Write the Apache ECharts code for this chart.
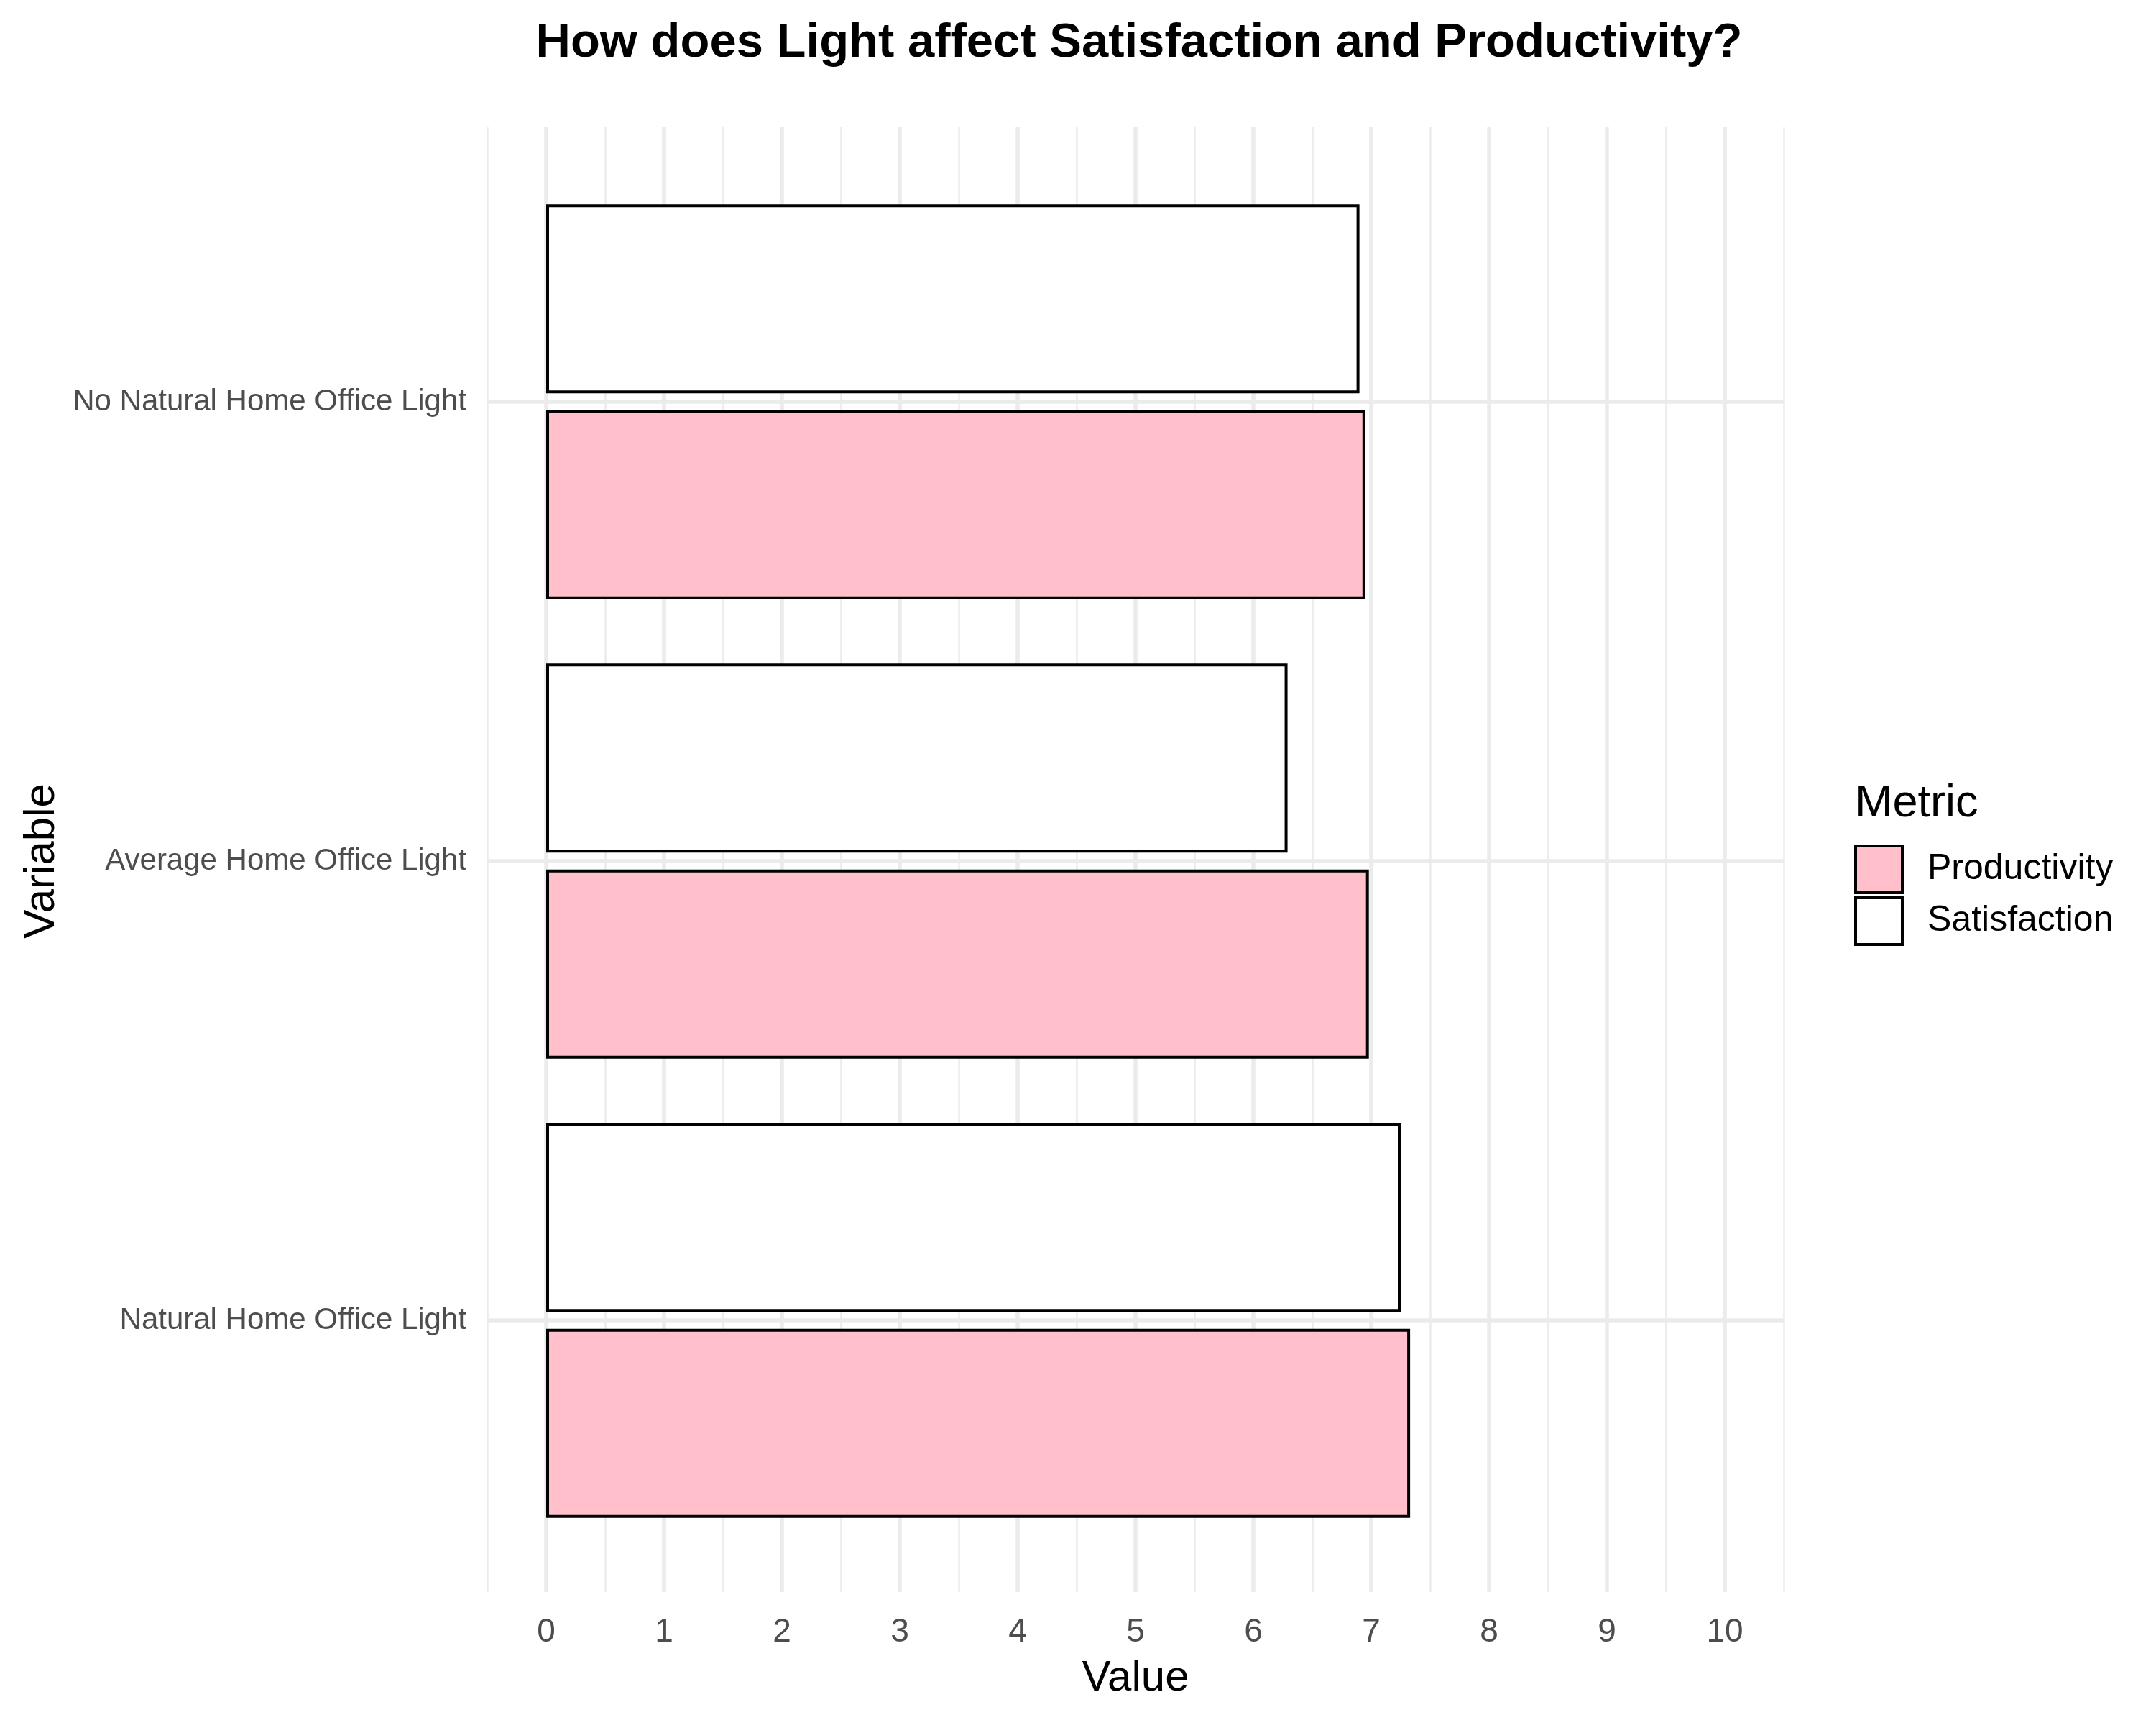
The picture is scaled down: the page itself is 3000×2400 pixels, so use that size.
<!DOCTYPE html>
<html>
<head>
<meta charset="utf-8">
<script src="https://cdn.jsdelivr.net/npm/echarts@6/dist/echarts.min.js"></script>
<style>
  html, body { margin: 0; padding: 0; background: #fff; }
  #Chart { width: 3000px; height: 2400px; }
</style>
</head>
<body>
<div id="Chart"></div>
<script>
// categories bottom to top (echarts puts the first one at the bottom)
var categories = ['Natural Home Office Light', 'Average Home Office Light', 'No Natural Home Office Light'];
var productivity = [7.33, 6.98, 6.95];
var satisfaction = [7.25, 6.29, 6.90];
var metrics = ['Productivity', 'Satisfaction'];
var xMin = -0.5;
var xMax = 10.5;

var FONT = 'Liberation Sans, Helvetica, Arial, sans-serif';
var GRID_COLOR = '#ebebeb';

function chartBars() {
  var myChart = echarts.init(document.getElementById('Chart'), null, { renderer: 'canvas' });
  var option = {
    backgroundColor: '#fff',
    animation: false,
    textStyle: { fontFamily: FONT },
    title: [{
      text: 'How does Light affect Satisfaction and Productivity?',
      left: 1580,
      textAlign: 'center',
      top: 22,
      textStyle: { fontSize: 67, fontWeight: 'bold', color: '#000', fontFamily: FONT }
    }, {
      text: 'Metric',
      left: 2576,
      top: 1082,
      textStyle: { fontSize: 63, fontWeight: 'normal', color: '#000', fontFamily: FONT }
    }],
    legend: {
      orient: 'vertical',
      left: 2580,
      top: 1175,
      padding: 0,
      itemWidth: 65,
      itemHeight: 65,
      itemGap: 3,
      icon: 'rect',
      selectedMode: false,
      data: metrics,
      itemStyle: { borderColor: '#000', borderWidth: 4 },
      textStyle: { fontSize: 50, color: '#000', fontFamily: FONT, padding: [0, 0, 0, 30] }
    },
    grid: [{
      // full panel, used for the vertical grid lines
      left: 678, right: 518, top: 177, bottom: 185
    }, {
      // from the first to the last category centre
      left: 678, right: 518, top: 559, bottom: 563
    }],
    xAxis: [{
      type: 'value',
      gridIndex: 0,
      min: xMin,
      max: xMax,
      interval: 0.5,
      name: 'Value',
      nameLocation: 'middle',
      nameGap: 90,
      nameTextStyle: { fontSize: 60, color: '#000', fontFamily: FONT },
      axisLine: { show: false },
      axisTick: { show: false },
      axisLabel: {
        margin: 33,
        fontSize: 46,
        color: '#4d4d4d',
        fontFamily: FONT,
        formatter: function (v) {
          return Math.abs(v - Math.round(v)) < 1e-6 ? String(Math.round(v)) : '';
        }
      },
      splitLine: { show: true, lineStyle: { color: ['rgba(0,0,0,0)', GRID_COLOR], width: 5.5 } }
    }, {
      // minor lines at the halves
      type: 'value',
      gridIndex: 0,
      min: xMin,
      max: xMax,
      interval: 1,
      axisLine: { show: false },
      axisTick: { show: false },
      axisLabel: { show: false },
      splitLine: { show: true, lineStyle: { color: GRID_COLOR, width: 2.5 } }
    }, {
      type: 'value',
      gridIndex: 1,
      min: xMin,
      max: xMax,
      show: false
    }],
    yAxis: [{
      type: 'value',
      gridIndex: 0,
      show: false
    }, {
      type: 'category',
      gridIndex: 1,
      data: categories,
      boundaryGap: false,
      name: 'Variable',
      nameLocation: 'middle',
      nameGap: 590,
      nameTextStyle: { fontSize: 60, color: '#000', fontFamily: FONT },
      axisLine: { show: false },
      axisTick: { show: false },
      axisLabel: { margin: 29, fontSize: 42, color: '#4d4d4d', fontFamily: FONT },
      splitLine: { show: true, lineStyle: { color: GRID_COLOR, width: 5.5 } }
    }],
    series: [{
      name: 'Satisfaction',
      type: 'bar',
      xAxisIndex: 2,
      yAxisIndex: 1,
      clip: false,
      barWidth: 263,
      barGap: '9%',
      itemStyle: { color: '#ffffff', borderColor: '#000', borderWidth: 4 },
      data: satisfaction
    }, {
      name: 'Productivity',
      type: 'bar',
      xAxisIndex: 2,
      yAxisIndex: 1,
      clip: false,
      barWidth: 263,
      barGap: '9%',
      itemStyle: { color: '#ffc0cb', borderColor: '#000', borderWidth: 4 },
      data: productivity
    }]
  };
  myChart.setOption(option);
}
chartBars()
</script>
</body>
</html>
